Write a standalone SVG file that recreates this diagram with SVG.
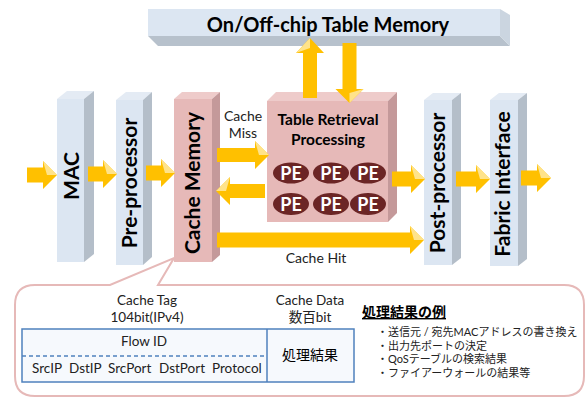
<svg xmlns="http://www.w3.org/2000/svg" width="587" height="398" viewBox="0 0 587 398">
<style>
text{font-family:Lato,"Noto Sans CJK JP",sans-serif;fill:#000}
.bf{fill:#dce6f2}.bs{fill:#b4bec9}.bt{fill:#e4ebf4}
.pf{fill:#e6b9b8}.ps{fill:#c4999a}.pt{fill:#eecbca}
.vt{font-size:21px;font-weight:bold;text-anchor:middle}
.lbl{font-size:14px;fill:#222;text-anchor:middle}
.arr{fill:#ffc000}.hl{fill:#ffe38a}
.pe{fill:#6b2525}.pet{font-size:18px;font-weight:bold;fill:#fff;text-anchor:middle}
.sm{font-size:13.5px;fill:#222}
.jp{font-size:11px;fill:#222}
</style>
<rect width="587" height="398" fill="#fff"/>
<g id="table-memory">
<rect x="148" y="9" width="352" height="27" class="bf"/>
<polygon points="148,36 500,36 510,46 158,46" fill="#b7c1cc"/>
<polygon points="500,9 510,15 510,46 500,36" fill="#cbd5e0"/>
<text x="328" y="32" font-size="20" font-weight="bold" text-anchor="middle">On/Off-chip Table Memory</text>
</g>
<g id="mac">
<polygon points="57,99 67,91 94,91 84,99" class="bt"/>
<polygon points="84,99 94,91 94,254 84,262" class="bs"/>
<rect x="57" y="99" width="27" height="163" class="bf"/>
<text class="vt" transform="translate(79,176) rotate(-90)">MAC</text>
</g>
<g id="pre-processor">
<polygon points="116,100 126,92 152,92 143,100" class="bt"/>
<polygon points="143,100 152,92 152,257 143,265" class="bs"/>
<rect x="116" y="100" width="27" height="165" class="bf"/>
<text class="vt" transform="translate(137,183) rotate(-90)">Pre-processor</text>
</g>
<g id="cache-memory">
<polygon points="174,99 182,92 220,92 212,99" class="pt"/>
<polygon points="212,99 220,92 220,255 212,262" class="ps"/>
<rect x="174" y="99" width="38" height="163" class="pf"/>
<text class="vt" transform="translate(200,183) rotate(-90)">Cache Memory</text>
</g>
<g id="table-retrieval">
<polygon points="267,101 276,92 397,92 388,101" class="pt"/>
<polygon points="388,101 397,92 397,213 388,222" class="ps"/>
<rect x="267" y="101" width="121" height="121" class="pf"/>
<text x="328" y="125" font-size="15.5" font-weight="bold" text-anchor="middle">Table Retrieval</text>
<text x="328" y="145" font-size="15.5" font-weight="bold" text-anchor="middle">Processing</text>
<ellipse cx="291" cy="173" rx="18" ry="10.5" class="pe"/>
<ellipse cx="331" cy="173" rx="18" ry="10.5" class="pe"/>
<ellipse cx="368" cy="173" rx="18" ry="10.5" class="pe"/>
<ellipse cx="291" cy="204" rx="18" ry="11" class="pe"/>
<ellipse cx="331" cy="204" rx="18" ry="11" class="pe"/>
<ellipse cx="368" cy="204" rx="18" ry="11" class="pe"/>
<text x="291" y="179.5" class="pet">PE</text>
<text x="331" y="179.5" class="pet">PE</text>
<text x="368" y="179.5" class="pet">PE</text>
<text x="291" y="210.5" class="pet">PE</text>
<text x="331" y="210.5" class="pet">PE</text>
<text x="368" y="210.5" class="pet">PE</text>
</g>
<g id="post-processor">
<polygon points="424,100 433,93 461,93 452,100" class="bt"/>
<polygon points="452,100 461,93 461,258 452,265" class="bs"/>
<rect x="424" y="100" width="28" height="165" class="bf"/>
<text class="vt" transform="translate(445,183) rotate(-90)">Post-processor</text>
</g>
<g id="fabric-interface">
<polygon points="490,100 499,93 527,93 518,100" class="bt"/>
<polygon points="518,100 527,93 527,259 518,266" class="bs"/>
<rect x="490" y="100" width="28" height="166" class="bf"/>
<text class="vt" transform="translate(510,184) rotate(-90)">Fabric Interface</text>
</g>
<g id="connectors">
<polygon class="arr" points="27,167.5 43,167.5 43,161 57,175 43,189 43,182.5 27,182.5"/>
<polygon class="hl" points="43,161 57,175 47,175"/>
<polygon class="arr" points="88,166.5 103,166.5 103,160 117,174 103,188 103,181.5 88,181.5"/>
<polygon class="hl" points="103,160 117,174 107,174"/>
<polygon class="arr" points="146,165.5 161,165.5 161,159 175,173 161,187 161,180.5 146,180.5"/>
<polygon class="hl" points="161,159 175,173 165,173"/>
<polygon class="arr" points="217,148 255,148 255,141 269,155 255,169 255,162 217,162"/>
<polygon class="hl" points="255,141 269,155 259,155"/>
<polygon class="arr" points="265,184 230,184 230,177 216,191 230,205 230,198 265,198"/>
<polygon class="hl" points="230,177 216,191 226,191"/>
<polygon class="arr" points="217,232.5 410,232.5 410,226 424,240 410,254 410,247.5 217,247.5"/>
<polygon class="hl" points="410,226 424,240 414,240"/>
<polygon class="arr" points="392,171.5 411,171.5 411,165 425,179 411,193 411,186.5 392,186.5"/>
<polygon class="hl" points="411,165 425,179 415,179"/>
<polygon class="arr" points="456,171.5 476,171.5 476,165 490,179 476,193 476,186.5 456,186.5"/>
<polygon class="hl" points="476,165 490,179 480,179"/>
<polygon class="arr" points="521,170.5 537,170.5 537,164 551,178 537,192 537,185.5 521,185.5"/>
<polygon class="hl" points="537,164 551,178 541,178"/>
<polygon class="arr" points="303,98 303,53 296,53 310,38 324,53 317,53 317,98"/>
<polygon class="hl" points="296,53 310,38 310,48"/>
<polygon class="arr" points="342.5,43 342.5,89 335.5,89 349.5,103 363.5,89 356.5,89 356.5,43"/>
<polygon class="hl" points="363.5,89 349.5,103 349.5,93"/>
<text class="lbl" x="243" y="121">Cache</text>
<text class="lbl" x="243" y="138">Miss</text>
<text class="lbl" x="316" y="263">Cache Hit</text>
</g>
<g id="callout">
<path d="M35,285 L110,285 L174,258 L158,285 L564,285 Q584,285 584,305 L584,376 Q584,396 564,396 L35,396 Q15,396 15,376 L15,305 Q15,285 35,285 Z" fill="#fff" stroke="#e6b9b8" stroke-width="2"/>
<text class="sm" x="147" y="305" text-anchor="middle">Cache Tag</text>
<text class="sm" x="147" y="322" text-anchor="middle">104bit(IPv4)</text>
<text class="sm" x="310" y="305" text-anchor="middle">Cache Data</text>
<text class="sm" x="310" y="322" text-anchor="middle">数百bit</text>
<rect x="22" y="329" width="332" height="53" fill="#f6f9fd" stroke="#4f81bd" stroke-width="1.5"/>
<line x1="267" y1="329" x2="267" y2="382" stroke="#4f81bd" stroke-width="1.5"/>
<line x1="22" y1="356" x2="267" y2="356" stroke="#4f81bd" stroke-width="1.5" stroke-dasharray="4,3"/>
<text class="sm" x="144" y="346" text-anchor="middle">Flow ID</text>
<text class="sm" x="32" y="373">SrcIP</text>
<text class="sm" x="69" y="373">DstIP</text>
<text class="sm" x="108" y="373">SrcPort</text>
<text class="sm" x="159" y="373">DstPort</text>
<text class="sm" x="212" y="373">Protocol</text>
<text x="310" y="360" font-size="14" fill="#222" text-anchor="middle">処理結果</text>
<text x="362" y="317" font-size="14" font-weight="bold" fill="#222" text-decoration="underline">処理結果の例</text>
<text class="jp" x="377" y="336">・送信元 / 宛先MACアドレスの書き換え</text>
<text class="jp" x="377" y="350">・出力先ポートの決定</text>
<text class="jp" x="377" y="363">・QoSテーブルの検索結果</text>
<text class="jp" x="377" y="377">・ファイアーウォールの結果等</text>
</g>
</svg>
